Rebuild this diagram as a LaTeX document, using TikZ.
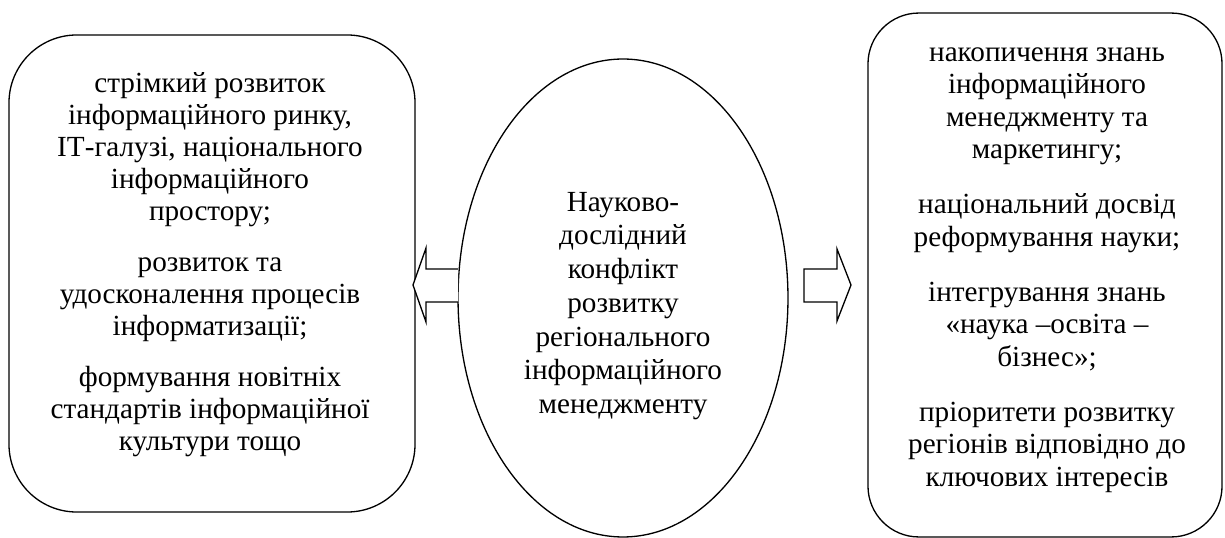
\documentclass[tikz,border=0pt]{standalone}
\usepackage{fontspec}
\setmainfont{Liberation Serif}
\usepackage{tikz}
\usetikzlibrary{shapes.geometric, positioning}

\begin{document}
\begin{tikzpicture}[x=0.531pt, y=-0.531pt, font=\fontsize{15.5pt}{17pt}\selectfont]
        % stijlen
        \tikzstyle{sidebox} = [rectangle, draw=black, line width=0.7pt, inner sep=0pt]
        \tikzstyle{conflict} = [ellipse, draw=black, line width=0.7pt, inner sep=0pt, minimum width=175.2pt, minimum height=253.8pt]
        \tikzstyle{boxtext} = [align=center, inner sep=0pt]
        \tikzstyle{blockarrow} = [draw=black, line width=0.7pt, line join=miter, fill=white]

        \useasboundingbox (0,0) rectangle (1225,538);

        % knopen
        \node (leftbox) [sidebox, rounded corners=36pt, minimum width=215.6pt, minimum height=253.3pt] at (212,273.5) {};
        \node (lefttext) [boxtext] at (210,265) {стрімкий розвиток\\інформаційного ринку,\\ІТ-галузі, національного\\інформаційного\\простору;\\[10pt]розвиток та\\удосконалення процесів\\інформатизації;\\[10pt]формування новітніх\\стандартів інформаційної\\культури тощо};
        \node (centre) [conflict] at (623,298) {};
        \node (centretext) [boxtext, font=\fontsize{15.5pt}{17.9pt}\selectfont] at (623,306) {Науково-\\дослідний\\конфлікт\\розвитку\\регіонального\\інформаційного\\менеджменту};
        \node (rightbox) [sidebox, rounded corners=27pt, minimum width=188pt, minimum height=278.2pt] at (1045,275) {};
        \node (righttext) [boxtext, font=\fontsize{15.5pt}{17.25pt}\selectfont] at (1047,270) {накопичення знань\\інформаційного\\менеджменту та\\маркетингу;\\[12pt]національний досвід\\реформування науки;\\[12pt]інтегрування знань\\«наука –освіта –\\бізнес»;\\[12pt]пріоритети розвитку\\регіонів відповідно до\\ключових інтересів};

        % pijlen
        \draw [blockarrow] (458,269) -- (426,269) -- (426,248) -- (413,285) -- (426,322) -- (426,302) -- (458,302);
        \draw [blockarrow] (804,269) -- (837,269) -- (837,249) -- (851,285) -- (837,321) -- (837,302) -- (804,302) -- cycle;
\end{tikzpicture}
\end{document}
